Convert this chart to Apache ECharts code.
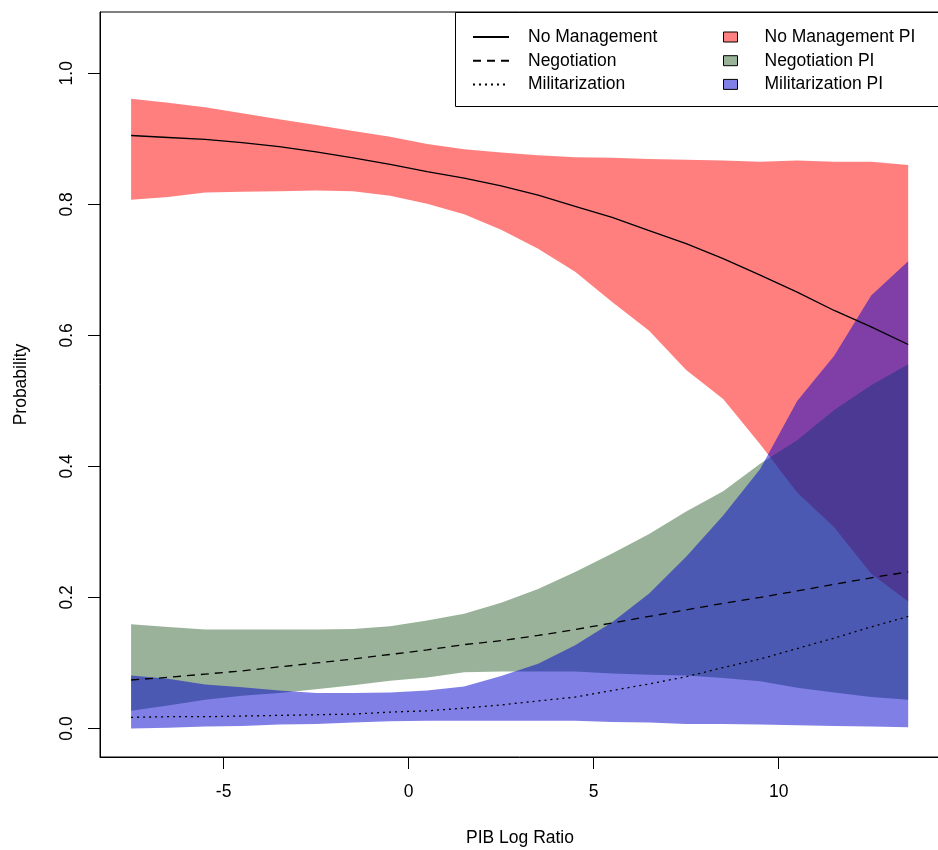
<!DOCTYPE html>
<html><head><meta charset="utf-8">
<script src="https://cdn.jsdelivr.net/npm/echarts@6/dist/echarts.min.js"></script>
<style>html,body{margin:0;padding:0;background:#fff}#c{width:938px;height:850px}</style>
</head><body><div id="c"></div>
<script>
// PIB Log Ratio grid
const xs = [-7.5,-6.5,-5.5,-4.5,-3.5,-2.5,-1.5,-0.5,0.5,1.5,2.5,3.5,4.5,5.5,6.5,7.5,8.5,9.5,10.5,11.5,12.5,13.5];
// No Management
const nmMean  = [0.905,0.902,0.899,0.894,0.888,0.880,0.871,0.861,0.850,0.840,0.828,0.814,0.797,0.780,0.760,0.740,0.717,0.692,0.666,0.638,0.613,0.586];
const nmUpper = [0.961,0.955,0.948,0.939,0.930,0.921,0.912,0.903,0.892,0.884,0.879,0.875,0.872,0.871,0.869,0.868,0.867,0.865,0.867,0.865,0.865,0.860];
const nmLower = [0.807,0.811,0.818,0.819,0.820,0.821,0.820,0.813,0.801,0.785,0.761,0.732,0.697,0.651,0.607,0.547,0.503,0.434,0.360,0.307,0.236,0.194];
// Negotiation
const ngMean  = [0.074,0.078,0.083,0.088,0.094,0.100,0.106,0.113,0.120,0.128,0.134,0.142,0.151,0.161,0.171,0.181,0.191,0.200,0.210,0.220,0.230,0.239];
const ngUpper = [0.159,0.155,0.151,0.151,0.151,0.151,0.152,0.156,0.165,0.175,0.192,0.213,0.239,0.267,0.297,0.331,0.362,0.404,0.440,0.486,0.524,0.556];
const ngLower = [0.027,0.035,0.044,0.050,0.054,0.060,0.066,0.073,0.078,0.086,0.087,0.087,0.087,0.084,0.082,0.081,0.077,0.072,0.062,0.055,0.048,0.044];
// Militarization
const mlMean  = [0.017,0.018,0.018,0.019,0.020,0.021,0.022,0.025,0.027,0.031,0.036,0.042,0.048,0.058,0.068,0.079,0.093,0.106,0.122,0.138,0.155,0.171];
const mlUpper = [0.081,0.076,0.067,0.063,0.058,0.054,0.054,0.055,0.058,0.064,0.080,0.099,0.127,0.162,0.206,0.262,0.325,0.396,0.500,0.569,0.661,0.713];
const mlLower = [0.000,0.001,0.003,0.004,0.006,0.007,0.009,0.011,0.012,0.012,0.012,0.012,0.012,0.010,0.009,0.007,0.007,0.006,0.005,0.004,0.003,0.002];
// tick labels
const xTicks = [-5,0,5,10];
const yTicks = [0,0.2,0.4,0.6,0.8,1.0];
const lineNames = ['No Management','Negotiation','Militarization'];
const bandNames = ['No Management PI','Negotiation PI','Militarization PI'];

const FONT = '"Liberation Sans", Arial, Helvetica, sans-serif';
const FS = 17.5;

function band(name, upper, lower, fill) {
  return {
    name: name, type: 'custom', z: 2, silent: true,
    itemStyle: {color: fill},
    data: [[xs[0], lower[0]]],
    renderItem: function (params, api) {
      const pts = [];
      for (let i = 0; i < xs.length; i++) pts.push(api.coord([xs[i], upper[i]]));
      for (let i = xs.length - 1; i >= 0; i--) pts.push(api.coord([xs[i], lower[i]]));
      return {type: 'polygon', shape: {points: pts}, style: {fill: fill, stroke: null}};
    }
  };
}
function line(name, vals, dash) {
  return {
    name: name, type: 'line', z: 5, silent: true, symbol: 'none', smooth: false,
    data: xs.map((x, i) => [x, vals[i]]),
    lineStyle: {color: '#000', width: 1.3, type: dash},
    itemStyle: {color: '#000'}
  };
}

const chart = echarts.init(document.getElementById('c'));
chart.setOption({
  animation: false,
  backgroundColor: '#fff',
  textStyle: {fontFamily: FONT},
  grid: {left: 100, top: 12, width: 840, height: 745, show: true, borderColor: '#000', borderWidth: 1,
    backgroundColor: 'transparent', outerBoundsMode: 'none', containLabel: false},
  xAxis: {
    type: 'value', min: -8.34, max: 14.36,
    splitLine: {show: false},
    axisLine: {show: true, onZero: false, lineStyle: {color: '#000', width: 1}},
    axisTick: {show: true, length: 12, lineStyle: {color: '#000', width: 1}, customValues: xTicks},
    axisLabel: {customValues: xTicks, fontSize: FS, color: '#000', fontFamily: FONT, margin: 26},
    name: 'PIB Log Ratio', nameLocation: 'middle', nameGap: 72,
    nameTextStyle: {fontSize: FS, color: '#000', fontFamily: FONT}
  },
  yAxis: {
    type: 'value', min: -0.0435, max: 1.0935,
    splitLine: {show: false},
    axisLine: {show: true, onZero: false, lineStyle: {color: '#000', width: 1}},
    axisTick: {show: true, length: 12, lineStyle: {color: '#000', width: 1}, customValues: yTicks},
    axisLabel: {customValues: yTicks, rotate: 90, fontSize: FS, color: '#000', fontFamily: FONT, margin: 24,
      formatter: v => Number(v).toFixed(1)},
    name: 'Probability', nameLocation: 'middle', nameGap: 70,
    nameTextStyle: {fontSize: FS, color: '#000', fontFamily: FONT}
  },
  legend: [
    {
      data: lineNames, orient: 'vertical', left: 472, top: 28, padding: 0,
      itemWidth: 36, itemHeight: 14, itemGap: 5.7, selectedMode: false,
      itemStyle: {opacity: 0},
      textStyle: {fontSize: FS, color: '#000', fontFamily: FONT, lineHeight: 14, padding: [0, 0, 0, 14]}
    },
    {
      data: [
        {name: bandNames[0], itemStyle: {color: '#FF8080', borderColor: '#000', borderWidth: 1}},
        {name: bandNames[1], itemStyle: {color: '#99B399', borderColor: '#000', borderWidth: 1}},
        {name: bandNames[2], itemStyle: {color: '#8080E6', borderColor: '#000', borderWidth: 1}}
      ],
      orient: 'vertical', left: 723, top: 28, padding: 0, icon: 'rect',
      itemWidth: 14, itemHeight: 10, itemGap: 5.7, selectedMode: false,
      textStyle: {fontSize: FS, color: '#000', fontFamily: FONT, lineHeight: 14, padding: [0, 0, 0, 22]}
    }
  ],
  graphic: [{
    type: 'rect', z: 10, silent: true,
    shape: {x: 455.5, y: 12.5, width: 500, height: 94},
    style: {fill: 'none', stroke: '#000', lineWidth: 1}
  }],
  series: [
    band(bandNames[0], nmUpper, nmLower, 'rgba(255,0,0,0.5)'),
    band(bandNames[1], ngUpper, ngLower, 'rgba(51,102,51,0.5)'),
    band(bandNames[2], mlUpper, mlLower, 'rgba(0,0,205,0.5)'),
    line(lineNames[0], nmMean, 'solid'),
    line(lineNames[1], ngMean, [8, 6]),
    line(lineNames[2], mlMean, [2, 4])
  ]
});
</script>
</body></html>
